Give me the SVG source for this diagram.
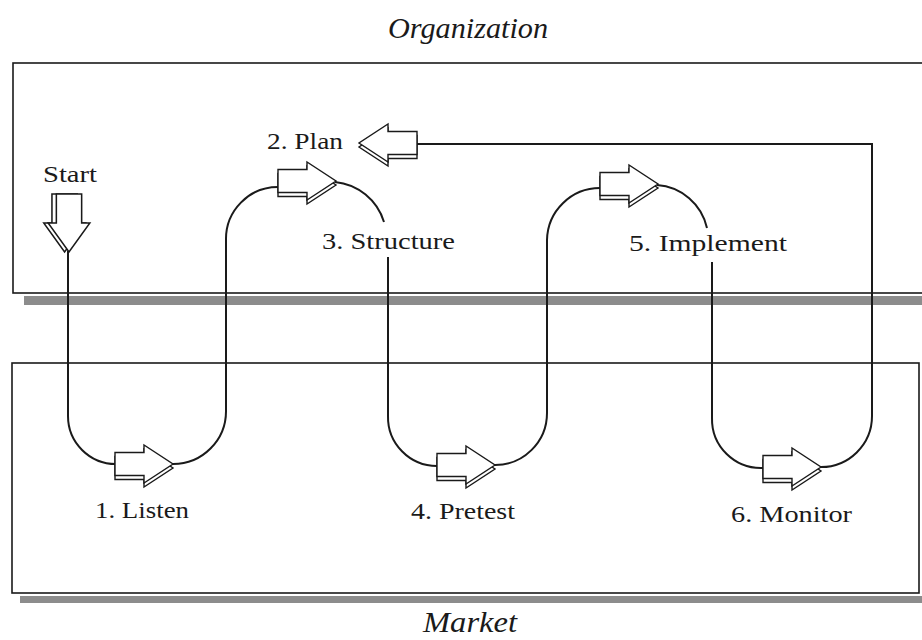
<svg xmlns="http://www.w3.org/2000/svg" xmlns:xlink="http://www.w3.org/1999/xlink" width="922" height="640" viewBox="0 0 922 640">
<style>
.box{fill:#fff;stroke:#1a1a1a;stroke-width:1.6}
.shade{fill:#8c8c8c}
.conn{fill:none;stroke:#1a1a1a;stroke-width:2}
.ar{fill:#fff;stroke:#1a1a1a;stroke-width:1.4;stroke-linejoin:miter}
.lbl{font-family:"Liberation Serif","Times New Roman",serif;font-size:24px;fill:#1a1a1a}
.ttl{font-family:"Liberation Serif","Times New Roman",serif;font-size:29px;font-style:italic;fill:#1a1a1a}
</style>
<defs>
<g id="arrow">
<polygon class="ar" points="0,-11.5 29,-11.5 29,-19 58,0 29,19 29,11.5 0,11.5" transform="translate(0,4)"/>
<polygon class="ar" points="0,-11.5 29,-11.5 29,-19 58,0 29,19 29,11.5 0,11.5"/>
</g>
</defs>
<rect width="922" height="640" fill="#fff"/>

<g id="organization">
<rect class="shade" x="24" y="296" width="898" height="9"/>
<rect class="box" x="13" y="63" width="920" height="230"/>
<text class="ttl" x="388" y="38" textLength="160" lengthAdjust="spacingAndGlyphs">Organization</text>
</g>
<g id="market">
<rect class="shade" x="20" y="596" width="902" height="7"/>
<rect class="box" x="12" y="363" width="907" height="230"/>
<text class="ttl" x="423" y="632" textLength="94" lengthAdjust="spacingAndGlyphs">Market</text>
</g>

<g id="connectors">
<path class="conn" d="M68,251 V416 A48,48 0 0 0 116,464"/>
<path class="conn" d="M172,464 A53,53 0 0 0 226,410 V240 A52,52 0 0 1 278,187"/>
<path class="conn" d="M335,182 A57,57 0 0 1 384,222"/>
<path class="conn" d="M388,257 V416 A49,49 0 0 0 437,466"/>
<path class="conn" d="M494,465 A52,52 0 0 0 547,413 V240 A53,53 0 0 1 600,188"/>
<path class="conn" d="M657,185 A55,55 0 0 1 707,228"/>
<path class="conn" d="M712,262 V418 A49,49 0 0 0 763,468"/>
<path class="conn" d="M820,467 A51,51 0 0 0 872,416 V144 H417"/>
</g>

<g id="start">
<text class="lbl" x="43" y="182" textLength="54" lengthAdjust="spacingAndGlyphs">Start</text>
<use xlink:href="#arrow" transform="translate(69,194) rotate(90) scale(1,1.1)"/>
</g>
<g id="step1">
<use xlink:href="#arrow" transform="translate(115,464)"/>
<text class="lbl" x="95" y="518" textLength="94" lengthAdjust="spacingAndGlyphs">1. Listen</text>
</g>
<g id="step2">
<use xlink:href="#arrow" transform="translate(417,143) scale(-1,1)"/>
<text class="lbl" x="267" y="149" textLength="76" lengthAdjust="spacingAndGlyphs">2. Plan</text>
</g>
<g id="step3">
<use xlink:href="#arrow" transform="translate(278,181)"/>
<text class="lbl" x="322" y="249" textLength="133" lengthAdjust="spacingAndGlyphs">3. Structure</text>
</g>
<g id="step4">
<use xlink:href="#arrow" transform="translate(437,465)"/>
<text class="lbl" x="411" y="519" textLength="104" lengthAdjust="spacingAndGlyphs">4. Pretest</text>
</g>
<g id="step5">
<use xlink:href="#arrow" transform="translate(600,184)"/>
<text class="lbl" x="629" y="251" textLength="158" lengthAdjust="spacingAndGlyphs">5. Implement</text>
</g>
<g id="step6">
<use xlink:href="#arrow" transform="translate(763,467)"/>
<text class="lbl" x="731" y="522" textLength="121" lengthAdjust="spacingAndGlyphs">6. Monitor</text>
</g>
</svg>
